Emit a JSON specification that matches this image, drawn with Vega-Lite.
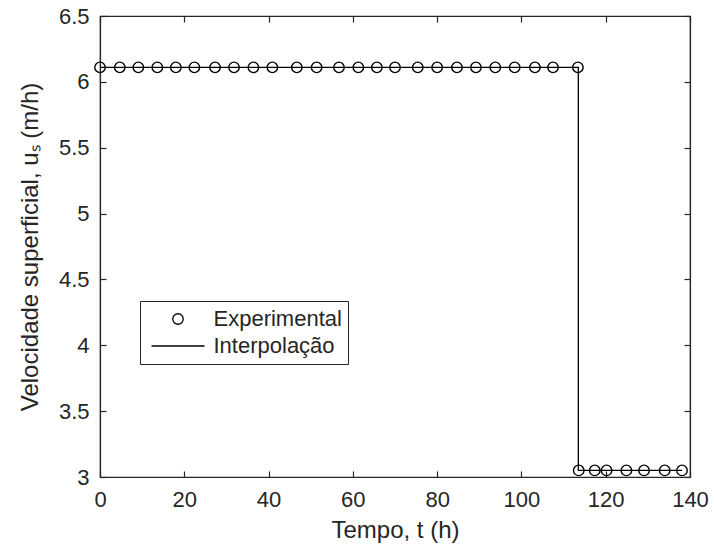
{
  "$schema": "https://vega.github.io/schema/vega-lite/v6.json",
  "width": 590,
  "height": 461,
  "autosize": "none",
  "padding": {"left": 100, "top": 16, "right": 24, "bottom": 72},
  "background": "white",
  "config": {
    "view": {"stroke": "#262626", "strokeWidth": 1.2},
    "font": "Liberation Sans",
    "axis": {
      "grid": false,
      "labelFont": "Liberation Sans",
      "titleFont": "Liberation Sans",
      "labelFontSize": 22,
      "titleFontSize": 24,
      "titleFontWeight": "normal",
      "labelColor": "#262626",
      "titleColor": "#262626",
      "domainColor": "#262626",
      "tickColor": "#262626",
      "domainWidth": 1.2,
      "tickWidth": 1.2,
      "tickSize": -6,
      "labelFlush": false
    },
    "legend": {
      "labelFont": "Liberation Sans",
      "labelFontSize": 22,
      "labelColor": "#262626"
    }
  },
  "data": {
    "values": [
      {"serie": "Interpolação", "i": 1, "t": 0, "u": 6.11},
      {"serie": "Interpolação", "i": 2, "t": 113.5, "u": 6.11},
      {"serie": "Interpolação", "i": 3, "t": 113.5, "u": 3.05},
      {"serie": "Interpolação", "i": 4, "t": 138.1, "u": 3.05},
      {"serie": "Experimental", "i": 1, "t": 0, "u": 6.11},
      {"serie": "Experimental", "i": 2, "t": 4.7, "u": 6.11},
      {"serie": "Experimental", "i": 3, "t": 9.1, "u": 6.11},
      {"serie": "Experimental", "i": 4, "t": 13.6, "u": 6.11},
      {"serie": "Experimental", "i": 5, "t": 18.0, "u": 6.11},
      {"serie": "Experimental", "i": 6, "t": 22.4, "u": 6.11},
      {"serie": "Experimental", "i": 7, "t": 27.3, "u": 6.11},
      {"serie": "Experimental", "i": 8, "t": 31.8, "u": 6.11},
      {"serie": "Experimental", "i": 9, "t": 36.4, "u": 6.11},
      {"serie": "Experimental", "i": 10, "t": 40.9, "u": 6.11},
      {"serie": "Experimental", "i": 11, "t": 46.7, "u": 6.11},
      {"serie": "Experimental", "i": 12, "t": 51.4, "u": 6.11},
      {"serie": "Experimental", "i": 13, "t": 56.7, "u": 6.11},
      {"serie": "Experimental", "i": 14, "t": 61.3, "u": 6.11},
      {"serie": "Experimental", "i": 15, "t": 65.7, "u": 6.11},
      {"serie": "Experimental", "i": 16, "t": 70.0, "u": 6.11},
      {"serie": "Experimental", "i": 17, "t": 75.4, "u": 6.11},
      {"serie": "Experimental", "i": 18, "t": 80.0, "u": 6.11},
      {"serie": "Experimental", "i": 19, "t": 84.7, "u": 6.11},
      {"serie": "Experimental", "i": 20, "t": 89.2, "u": 6.11},
      {"serie": "Experimental", "i": 21, "t": 93.8, "u": 6.11},
      {"serie": "Experimental", "i": 22, "t": 98.4, "u": 6.11},
      {"serie": "Experimental", "i": 23, "t": 103.2, "u": 6.11},
      {"serie": "Experimental", "i": 24, "t": 107.5, "u": 6.11},
      {"serie": "Experimental", "i": 25, "t": 113.4, "u": 6.11},
      {"serie": "Experimental", "i": 26, "t": 113.6, "u": 3.05},
      {"serie": "Experimental", "i": 27, "t": 117.4, "u": 3.05},
      {"serie": "Experimental", "i": 28, "t": 120.2, "u": 3.05},
      {"serie": "Experimental", "i": 29, "t": 124.9, "u": 3.05},
      {"serie": "Experimental", "i": 30, "t": 129.1, "u": 3.05},
      {"serie": "Experimental", "i": 31, "t": 134.0, "u": 3.05},
      {"serie": "Experimental", "i": 32, "t": 138.1, "u": 3.05}
    ]
  },
  "layer": [
    {
      "transform": [{"filter": "datum.serie == 'Interpolação'"}],
      "mark": {"type": "line", "color": "black", "strokeWidth": 1.3},
      "encoding": {
        "x": {
          "field": "t", "type": "quantitative",
          "scale": {"domain": [0, 140], "nice": false, "zero": false},
          "axis": {"values": [0, 20, 40, 60, 80, 100, 120, 140], "title": "Tempo, t (h)", "labelPadding": 18, "titlePadding": 8}
        },
        "y": {
          "field": "u", "type": "quantitative",
          "scale": {"domain": [3, 6.5], "nice": false, "zero": false},
          "axis": {"values": [3, 3.5, 4, 4.5, 5, 5.5, 6, 6.5], "format": ".1~f", "title": "Velocidade superficial, uₛ (m/h)", "labelPadding": 17, "titlePadding": 16}
        },
        "order": {"field": "i", "type": "quantitative"}
      }
    },
    {
      "transform": [{"filter": "datum.serie == 'Experimental'"}],
      "mark": {"type": "point", "filled": false, "color": "black", "strokeWidth": 1.4, "opacity": 1},
      "encoding": {
        "x": {
          "field": "t", "type": "quantitative",
          "axis": {"orient": "top", "values": [0, 20, 40, 60, 80, 100, 120, 140], "labels": false, "title": null}
        },
        "y": {
          "field": "u", "type": "quantitative",
          "axis": {"orient": "right", "values": [3, 3.5, 4, 4.5, 5, 5.5, 6, 6.5], "labels": false, "title": null}
        },
        "shape": {
          "field": "serie", "type": "nominal",
          "scale": {"domain": ["Experimental", "Interpolação"], "range": ["circle", "M-1,0H1"]},
          "legend": {
            "title": null, "orient": "none", "legendX": 40, "legendY": 285,
            "strokeColor": "#262626", "fillColor": "white", "padding": 6,
            "symbolStrokeColor": "black", "symbolFillColor": "transparent", "symbolStrokeWidth": 1.3,
            "symbolOffset": 4.5, "labelOffset": 8, "rowPadding": 3, "clipHeight": 24
          }
        },
        "size": {
          "field": "serie", "type": "nominal",
          "scale": {"domain": ["Experimental", "Interpolação"], "range": [110, 2809]},
          "legend": {
            "title": null, "orient": "none", "legendX": 40, "legendY": 285,
            "strokeColor": "#262626", "fillColor": "white", "padding": 6,
            "symbolStrokeColor": "black", "symbolFillColor": "transparent", "symbolStrokeWidth": 1.3,
            "symbolOffset": 4.5, "labelOffset": 8, "rowPadding": 3, "clipHeight": 24
          }
        }
      }
    }
  ],
  "resolve": {"axis": {"x": "independent", "y": "independent"}}
}
